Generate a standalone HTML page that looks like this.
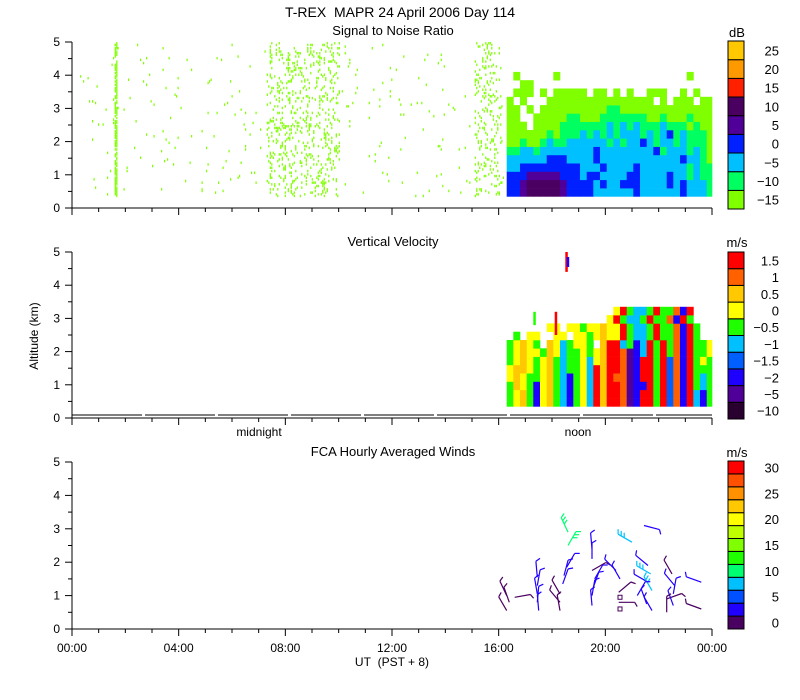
<!DOCTYPE html>
<html><head><meta charset="utf-8">
<style>
html,body{margin:0;padding:0;background:#fff;}
svg{display:block;font-family:"Liberation Sans",sans-serif;}
text{fill:#000;font-size:12px;white-space:pre;}
</style></head>
<body>
<svg id="chart" width="800" height="700" viewBox="0 0 800 700">
<text x="400" y="17" text-anchor="middle" style="font-size:14px">T-REX&#160;&#160;MAPR 24 April 2006 Day 114</text>
<text x="393" y="35" text-anchor="middle" style="font-size:13px">Signal to Noise Ratio</text>
<text x="393" y="246" text-anchor="middle" style="font-size:13px">Vertical Velocity</text>
<text x="393" y="456" text-anchor="middle" style="font-size:13px">FCA Hourly Averaged Winds</text>
<text x="38" y="336" text-anchor="middle" transform="rotate(-90 38 336)">Altitude (km)</text>
<text x="392" y="666" text-anchor="middle">UT&#160;&#160;(PST + 8)</text>
<text x="259" y="436" text-anchor="middle">midnight</text>
<text x="578" y="436" text-anchor="middle">noon</text>
<text x="737" y="37" text-anchor="middle" style="font-size:13px">dB</text>
<text x="737" y="247" text-anchor="middle" style="font-size:13px">m/s</text>
<text x="737" y="457" text-anchor="middle" style="font-size:13px">m/s</text>
<g id="layer"></g>
</svg>
<script>
// ---- data ----
const xTickLabels = ["00:00","04:00","08:00","12:00","16:00","20:00","00:00"];
const yTickLabels = ["0","1","2","3","4","5"];
const snrColorLabels = ["-15","-10","-5","0","5","10","15","20","25"];
const snrColors = ["#80ff00","#00ff60","#00c0ff","#0020ff","#500098","#4a0060","#ff2000","#ff9900","#ffc800"];
const velColorLabels = ["-10","-5","-2","-1.5","-1","-0.5","0","0.5","1","1.5"];
const velColors = ["#2a0030","#500098","#1e00ff","#0060ff","#00c0ff","#20ff00","#ffff00","#ffc800","#ff6000","#ff0000"];
const windColorLabels = ["0","5","10","15","20","25","30"];
const windColors = ["#4a0060","#2000ff","#0050ff","#00c0ff","#00ff70","#20ff00","#80ff00","#c0ff00","#ffff00","#ffc800","#ff9000","#ff5000","#ff0000"];
const gridStartHour = 16.3;
const gridHourStep = 0.25;
const gridStartAlt = 0.35;
const gridAltStep = 0.25;
// SNR level index per cell, rows bottom to top ('.' = no echo)
const snrRows = [
"3345555543333222222322222232221",
"3345555543333232233322223232221",
"3334444433323322223322223221211",
"2233333333322232222322222221211",
"2222223332222322222222222232210",
"1122122222222322222222312221210",
"0010012112222221212232122121110",
"0000001011121212122212123121110",
"000.000011111112121211121110100",
"00..000001100011111110010001000",
"00.0.00000000001100000000000000",
"0.0...0000000000000000.0.000.00",
".000.0.00000.00.0.0..000..0.0.",
"..00...........................",
".0.....0...................0..."
];
// Vertical velocity level index per cell, rows bottom to top
const velRows = [
"5675267542564979981299593829425",
"5675267542564979981299593829425",
"5765267542564979981229593829545",
"6765567542564979881299593829545",
"6776567545564979981299593829555",
"5676567545564679981299593829565",
"5676657645565679981249595829556",
"56765.7645665.79945249595829556",
".5.66..66.6656766954459558295..",
"......66.66566766954459558295...",
"...............6954459558295...",
"................695445955829...."
];
// isolated velocity echoes: [hour, altBottom, altTop, level]
const velExtra = [[18.1,2.5,3.2,9],[18.5,4.4,5.0,9],[18.55,4.55,4.85,2],[17.3,2.8,3.2,5]];
// clear-air speckle bands in SNR panel: [startHour, endHour, density]
const speckleBands = [[0.3,7.3,0.012],[1.6,1.7,0.7],[7.3,10.0,0.14],[10,15.1,0.01],[15.1,16.1,0.13],[16.1,16.3,0.02]];
// wind barbs: [hour, alt km, speed m/s, staff angle deg]
const barbs = [
[16.3,1.0,2,115],[16.4,0.8,2,110],[16.3,0.55,2,120],[16.6,0.95,1.5,10],
[17.45,1.55,4,95],[17.45,1.3,4,80],[17.45,1.05,4,100],[17.45,0.8,4,85],[17.5,0.55,4,95],
[18.6,2.9,11,115],[18.6,2.5,11,60],[18.55,1.85,4,60],[18.45,1.6,4,75],[18.4,1.35,4,70],[18.3,1.05,2,120],[18.3,0.8,2,130],[18.3,0.55,2,100],
[19.5,2.4,4,95],[19.5,2.1,4,90],[19.5,1.75,2,30],[19.6,1.5,4,60],[19.55,1.25,4,70],[19.5,1.0,4,80],[19.5,0.7,4,95],
[20.4,1.75,4,135],[20.55,1.5,4,120],[20.5,1.1,2,40],[20.5,0.8,2,0],
[21.45,3.1,4,-15],[21.0,2.6,8,150],[21.6,1.9,4,140],[21.7,1.65,8,150],[21.6,1.4,4,150],[21.75,1.15,8,120],[21.2,1.0,4,60],[21.55,0.75,4,110],[21.75,0.55,4,120],
[22.5,1.65,2,120],[22.6,1.3,4,130],[22.55,1.05,4,80],[22.3,0.9,2,20],[22.55,0.7,4,110],[22.3,0.5,2,90],
[23.6,1.4,4,160],[23.6,0.6,2,160]
];

// ---- layout ----
const L = document.getElementById('layer');
const NS = "http://www.w3.org/2000/svg";
const X0 = 72, X1 = 712;
const panels = [{top:42,bot:208},{top:252,bot:418},{top:462,bot:629}];
function xs(h){return X0 + (X1-X0)*h/24;}
function ys(p,a){return p.bot - (p.bot-p.top)*a/5;}
function mk(tag, attrs, parent){
  const e = document.createElementNS(NS, tag);
  for (const k in attrs) e.setAttribute(k, attrs[k]);
  (parent||L).appendChild(e);
  return e;
}
// deterministic hash for speckle texture
function hash(i){let x=Math.sin(i*12.9898+78.233)*43758.5453;return x-Math.floor(x);}

// speckles
const sp = mk('g',{});


let idx=0;
speckleBands.forEach(b=>{
  const x1=xs(b[0]), x2=xs(b[1]);
  for(let x=x1;x<x2;x+=1.5){
    for(let a=0.4;a<5;a+=0.05){
      idx++;
      if(hash(idx)<b[2]){
        mk('rect',{x:x.toFixed(1),y:ys(panels[0],a).toFixed(1),width:1.2,height:2.5,fill:snrColors[0]},sp);
      }
    }
  }
});

function drawGrid(rows, colors, p, name){
  const g = mk('g',{});
  
  
  rows.forEach((row,i)=>{
    for(let c=0;c<row.length;c++){
      const ch=row[c]; if(ch==='.') continue;
      const h=gridStartHour+c*gridHourStep;
      const a=gridStartAlt+i*gridAltStep;
      const x=xs(h), w=Math.min(xs(h+gridHourStep),X1)-x;
      const y=ys(p,a+gridAltStep), hh=ys(p,a)-y;
      const r=mk('rect',{x:x.toFixed(1),y:y.toFixed(1),width:(w+0.3).toFixed(1),height:(hh+0.3).toFixed(1),fill:colors[+ch]},g);
      
      
    }
  });
  return g;
}
drawGrid(snrRows, snrColors, panels[0], 'snr-heatmap');
const vg = drawGrid(velRows, velColors, panels[1], 'velocity-heatmap');
velExtra.forEach(v=>{
  const r=mk('rect',{x:xs(v[0]).toFixed(1),y:ys(panels[1],v[2]).toFixed(1),width:2.5,height:(ys(panels[1],v[1])-ys(panels[1],v[2])).toFixed(1),fill:velColors[v[3]]},vg);
  
  
});

// barbs
const bg = mk('g',{});


barbs.forEach(b=>{
  const x=xs(b[0]), y=ys(panels[2],b[1]);
  const ang=b[3]*Math.PI/180, len=16;
  const ci=Math.min(windColors.length-1, Math.floor(b[2]/2.5));
  const col=windColors[ci];
  const x2=x+Math.cos(ang)*len, y2=y-Math.sin(ang)*len;
  const ln=mk('line',{x1:x.toFixed(1),y1:y.toFixed(1),x2:x2.toFixed(1),y2:y2.toFixed(1),stroke:col,'stroke-width':1.2},bg);
  
  
  const nt=Math.max(1,Math.round(b[2]/3));
  for(let k=0;k<nt&&k<3;k++){
    const t=1-k*0.22;
    const bx=x+Math.cos(ang)*len*t, by=y-Math.sin(ang)*len*t;
    const ta=ang-Math.PI/3;
    mk('line',{x1:bx.toFixed(1),y1:by.toFixed(1),x2:(bx+Math.cos(ta)*5).toFixed(1),y2:(by-Math.sin(ta)*5).toFixed(1),stroke:col,'stroke-width':1.2},bg);
  }
});
[[20.55,0.95],[20.55,0.6]].forEach(s=>{
  mk('rect',{x:xs(s[0])-2,y:ys(panels[2],s[1])-2,width:4,height:4,fill:'none',stroke:windColors[0],'stroke-width':1},bg);
});

// axes
panels.forEach((p,pi)=>{
  const g=mk('g',{});
  
  
  mk('line',{x1:X0,y1:p.top,x2:X0,y2:p.bot,stroke:'#000'},g);
  mk('line',{x1:X0,y1:p.bot,x2:X1,y2:p.bot,stroke:'#000'},g);
  for(let a=0;a<=5;a+=0.5){
    const y=ys(p,a), major=Number.isInteger(a);
    mk('line',{x1:X0-(major?7:4),y1:y,x2:X0,y2:y,stroke:'#000'},g);
    if(major){const t=mk('text',{x:X0-12,y:y+4,'text-anchor':'end'},g);t.textContent=yTickLabels[a];}
  }
  for(let h=0;h<=24;h++){
    const x=xs(h), major=h%4===0;
    mk('line',{x1:x,y1:p.bot,x2:x,y2:p.bot+(major?7:4),stroke:'#000'},g);
    if(pi===2&&major){const t=mk('text',{x:x,y:p.bot+23,'text-anchor':'middle'},g);t.textContent=xTickLabels[h/4];}
  }
});
mk('line',{x1:X0,y1:415,x2:X1,y2:415,stroke:'#000','stroke-width':1,'stroke-dasharray':'70 3'});

// colorbars
function colorbar(colors, labels, top, bot, name, every){
  const g=mk('g',{});
  
  
  const n=colors.length, bh=(bot-top)/n;
  for(let i=0;i<n;i++){
    const y=bot-(i+1)*bh;
    mk('rect',{x:728,y:y.toFixed(1),width:16,height:bh.toFixed(1),fill:colors[i],stroke:'#000','stroke-width':1},g);
  }
  labels.forEach((lab,j)=>{
    const i=j*every;
    const y=bot-(i+0.5)*bh;
    const t=mk('text',{x:779,y:(y+5).toFixed(1),'text-anchor':'end',style:'font-size:13px'},g);
    t.textContent=lab.replace('-','\u2212');
  });
}
colorbar(snrColors, snrColorLabels, 41, 209, 'snr-colorbar', 1);
colorbar(velColors, velColorLabels, 252, 419, 'velocity-colorbar', 1);
colorbar(windColors, windColorLabels, 461, 629, 'winds-colorbar', 2);
</script>
</body></html>
